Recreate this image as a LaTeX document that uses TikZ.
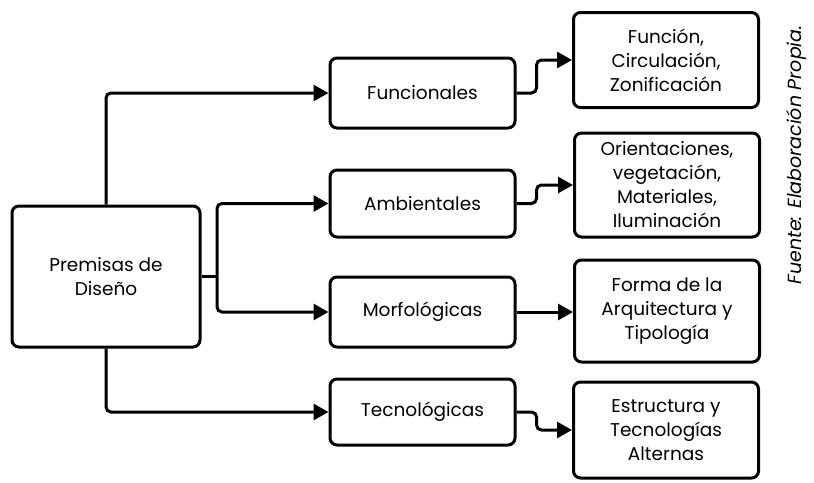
\documentclass[tikz,border=0pt]{standalone}
\usepackage{fontspec}
\setmainfont{Poppins}
\usetikzlibrary{arrows.meta}
\begin{document}
\begin{tikzpicture}[x=1pt,y=-1pt,
  box/.style={draw=black,line width=3pt,rounded corners=7pt,fill=white,
    align=center,inner sep=0pt,font=\fontsize{18.5}{24}\selectfont},
  link/.style={line width=3pt,rounded corners=5pt,
    -{Triangle[length=15pt,width=16pt]}},
  note/.style={font=\fontsize{19}{22}\selectfont\itshape}]
\useasboundingbox (0,0) rectangle (814,482);
% main node
\node[box,minimum width=188pt,minimum height=141pt] (prem) at (106,276.5) {Premisas de\\Diseño};
% second column
\node[box,minimum width=185pt,minimum height=70pt] (func) at (422.5,93) {Funcionales};
\node[box,minimum width=185pt,minimum height=67pt] (amb) at (422.5,203.5) {Ambientales};
\node[box,minimum width=185pt,minimum height=70pt] (morf) at (422.5,312) {Morfológicas};
\node[box,minimum width=185pt,minimum height=66pt] (tec) at (422.5,412) {Tecnológicas};
% third column
\node[box,minimum width=185pt,minimum height=95pt] (funcd) at (666,60) {Función,\\Circulación,\\Zonificación};
\node[box,minimum width=185pt,minimum height=104pt] (ambd) at (667,185) {Orientaciones,\\vegetación,\\Materiales,\\Iluminación};
\node[box,minimum width=185pt,minimum height=102pt] (morfd) at (667,311) {Forma de la\\Arquitectura y\\Tipología};
\node[box,minimum width=185pt,minimum height=96pt] (tecd) at (666,430) {Estructura y\\Tecnologías\\Alternas};
% branches from the main node
\coordinate (j) at (217,276.5);
\draw[link] (prem.north) -- (prem.north |- func.west) -- (func.west);
\draw[line width=3pt] (prem.east) -- (j);
\draw[link] (j) -- (j |- amb.west) -- (amb.west);
\draw[link] (j) -- (j |- morf.west) -- (morf.west);
\draw[link] (prem.south) -- (prem.south |- tec.west) -- (tec.west);
% links to the detail boxes
\draw[link] (func.east) -- ++(20,0) -- ++(0,-33) -- (funcd.west);
\draw[link] (amb.east) -- ++(20,0) -- ++(0,-18.5) -- (ambd.west);
\draw[link] (morf.east) -- (morfd.west |- morf.east);
\draw[link] (tec.east) -- ++(20,0) -- ++(0,18) -- (tecd.west);
% source note
\node[note,rotate=90] (src) at (796,155) {Fuente: Elaboración Propia.};
\end{tikzpicture}
\end{document}
